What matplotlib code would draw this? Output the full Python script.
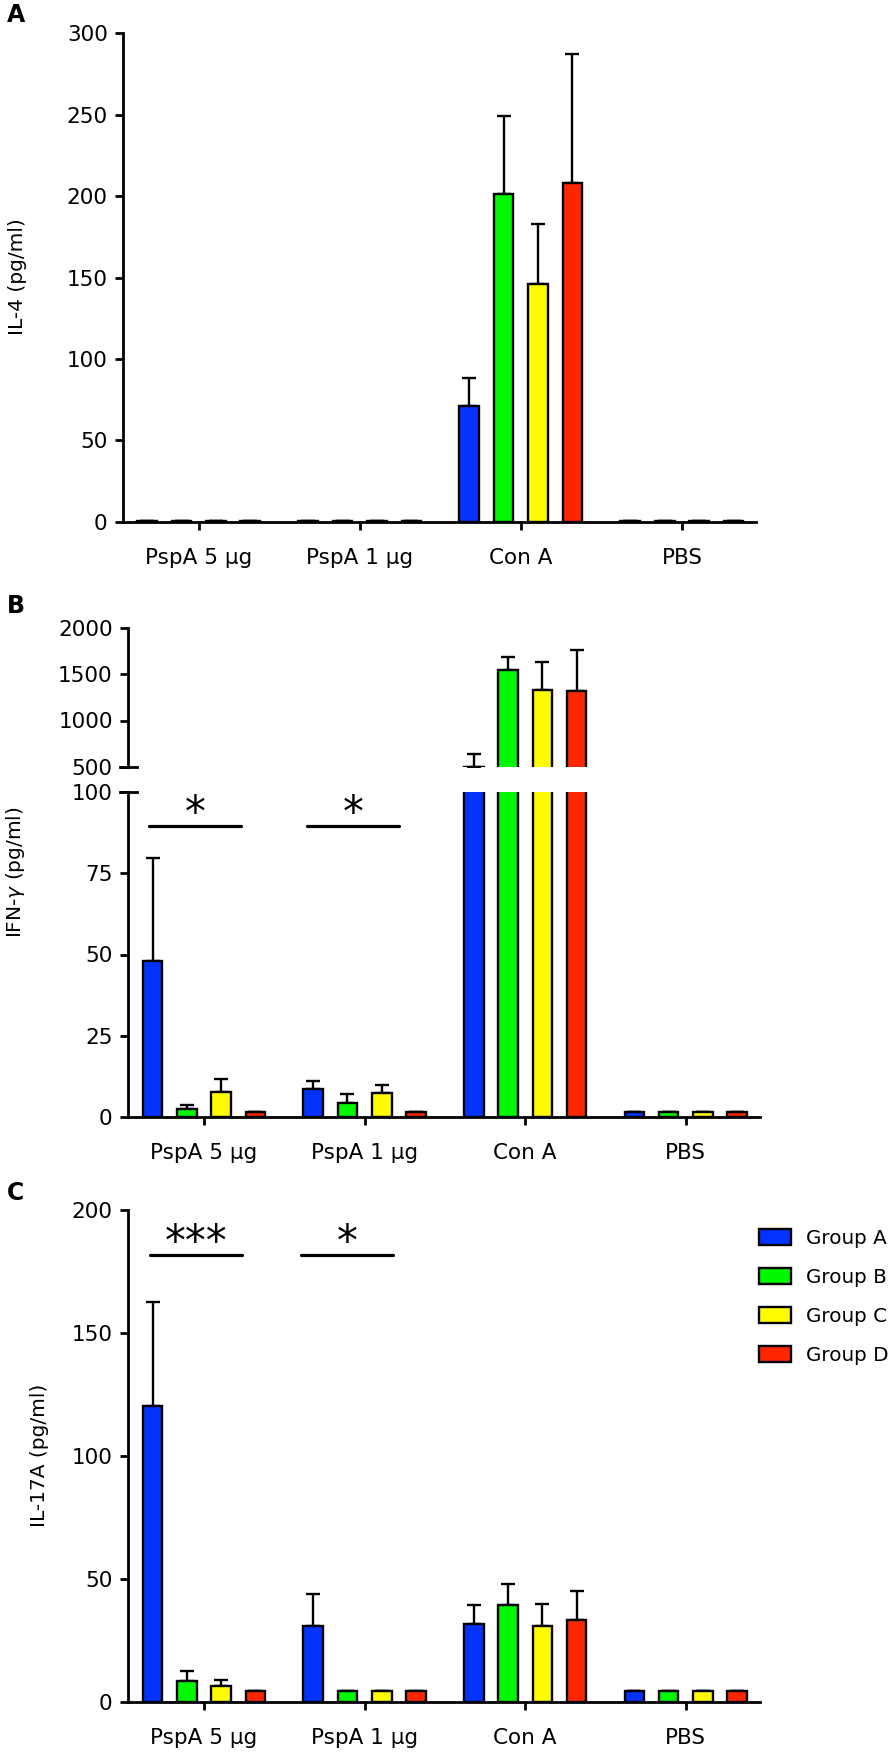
import numpy as np
import matplotlib
matplotlib.use("Agg")
import matplotlib.pyplot as plt

# ---- data ----
groups = ["PspA 5 µg", "PspA 1 µg", "Con A", "PBS"]
series = ["Group A", "Group B", "Group C", "Group D"]
colors = ["#0433ff", "#00f900", "#fffb00", "#ff2600"]

# IL-4 (pg/ml), mean and SEM per series, one value per stimulus group
il4_a = [0.4, 0.4, 71.0, 0.4]
il4_b = [0.4, 0.4, 201.0, 0.4]
il4_c = [0.4, 0.4, 146.0, 0.4]
il4_d = [0.4, 0.4, 208.0, 0.4]
il4_a_sem = [0, 0, 17.5, 0]
il4_b_sem = [0, 0, 48.0, 0]
il4_c_sem = [0, 0, 37.0, 0]
il4_d_sem = [0, 0, 79.5, 0]

# IFN-gamma (pg/ml)
ifn_a = [48.0, 8.5, 505.0, 1.6]
ifn_b = [2.4, 4.4, 1542.0, 1.6]
ifn_c = [7.8, 7.3, 1325.0, 1.6]
ifn_d = [1.6, 1.6, 1317.0, 1.6]
ifn_a_sem = [31.8, 2.6, 135.0, 0]
ifn_b_sem = [1.3, 2.7, 146.0, 0]
ifn_c_sem = [3.9, 2.5, 301.0, 0]
ifn_d_sem = [0, 0, 446.0, 0]

# IL-17A (pg/ml)
il17_a = [120.3, 31.0, 31.9, 4.5]
il17_b = [8.4, 4.5, 39.5, 4.5]
il17_c = [6.6, 4.5, 30.7, 4.5]
il17_d = [4.5, 4.5, 33.3, 4.5]
il17_a_sem = [42.4, 12.8, 7.4, 0]
il17_b_sem = [4.1, 0, 8.3, 0]
il17_c_sem = [2.3, 0, 9.1, 0]
il17_d_sem = [0, 0, 11.7, 0]

# ---- figure layout (pixel based) ----
W, H = 892, 1759
fig = plt.figure(figsize=(W / 100, H / 100), dpi=100)
plt.rcParams["font.family"] = ["DejaVu Sans"]
plt.rcParams["mathtext.fontset"] = "dejavusans"

LW = 2.0
FS = 15.5       # tick labels
FS_LAB = 14.5   # axis labels
FS_LEG = 14.3


def px_axes(left, top, right, bottom):
    return fig.add_axes([left / W, 1 - bottom / H, (right - left) / W, (bottom - top) / H])


def style(ax):
    for s in ["top", "right"]:
        ax.spines[s].set_visible(False)
    for s in ["left", "bottom"]:
        ax.spines[s].set_linewidth(LW)
    ax.tick_params(axis="both", width=LW, length=6, labelsize=FS)
    ax.tick_params(axis="y", pad=5)
    ax.tick_params(axis="x", pad=13)


def draw_bars(ax, means, sems):
    x = np.arange(len(groups))
    pitch = 0.2136
    width = 0.122
    handles = []
    for i, (m, e) in enumerate(zip(means, sems)):
        pos = x + (i - 1.5) * pitch
        ax.errorbar(pos, m, yerr=[np.zeros(len(e)), e], fmt="none", ecolor="k",
                    elinewidth=1.7, capsize=5, capthick=1.7, zorder=1)
        b = ax.bar(pos, m, width, color=colors[i], edgecolor="k", linewidth=1.7,
                   zorder=2, label=series[i])
        handles.append(b)
    return handles


def sig(ax, x0, x1, y, text):
    ax.plot([x0, x1], [y, y], color="k", lw=2.3, solid_capstyle="round", clip_on=False)
    ax.text((x0 + x1) / 2, y, text, ha="center", va="baseline", fontsize=30)


# ---- panel A ----
axA = px_axes(123, 33.3, 756, 521.7)
draw_bars(axA, [il4_a, il4_b, il4_c, il4_d], [il4_a_sem, il4_b_sem, il4_c_sem, il4_d_sem])
axA.set_xlim(-0.47, 3.46)
axA.set_ylim(0, 300)
axA.set_yticks(np.arange(0, 301, 50))
axA.set_xticks(np.arange(len(groups)))
axA.set_xticklabels(groups)
style(axA)
axA.set_ylabel("IL-4 (pg/ml)", fontsize=FS_LAB)
axA.yaxis.set_label_coords(27 / W, 1 - 277 / H, transform=fig.transFigure)

# ---- panel B (broken axis) ----
axBu = px_axes(128, 627.5, 760, 767)
axBl = px_axes(128, 792, 760, 1117)
ifn_means = [ifn_a, ifn_b, ifn_c, ifn_d]
ifn_sems = [ifn_a_sem, ifn_b_sem, ifn_c_sem, ifn_d_sem]
draw_bars(axBu, ifn_means, ifn_sems)
draw_bars(axBl, ifn_means, ifn_sems)
for ax in (axBu, axBl):
    ax.set_xlim(-0.473, 3.462)
    style(ax)
axBu.set_ylim(500, 2000)
axBu.set_yticks([500, 1000, 1500, 2000])
axBu.spines["bottom"].set_visible(False)
axBu.tick_params(axis="x", bottom=False, labelbottom=False)
axBl.set_ylim(0, 100)
axBl.set_yticks([0, 25, 50, 75, 100])
axBl.set_xticks(np.arange(len(groups)))
axBl.set_xticklabels(groups)
# break marks
axBu.plot([-0.012, 0.014], [0, 0], transform=axBu.transAxes, color="k", lw=LW, clip_on=False)
axBl.plot([-0.012, 0.014], [1, 1], transform=axBl.transAxes, color="k", lw=LW, clip_on=False)
axBl.set_ylabel(r"IFN-$\gamma$ (pg/ml)", fontsize=FS_LAB)
axBl.yaxis.set_label_coords(27 / W, 1 - 872 / H, transform=fig.transFigure)
sig(axBl, -0.345, 0.23, 89.4, "*")
sig(axBl, 0.641, 1.214, 89.4, "*")

# ---- panel C ----
axC = px_axes(128, 1210, 760, 1702)
hC = draw_bars(axC, [il17_a, il17_b, il17_c, il17_d],
               [il17_a_sem, il17_b_sem, il17_c_sem, il17_d_sem])
axC.set_xlim(-0.473, 3.462)
axC.set_ylim(0, 200)
axC.set_yticks(np.arange(0, 201, 50))
axC.set_xticks(np.arange(len(groups)))
axC.set_xticklabels(groups)
style(axC)
axC.set_ylabel("IL-17A (pg/ml)", fontsize=FS_LAB)
axC.yaxis.set_label_coords(49 / W, 1 - 1455 / H, transform=fig.transFigure)
sig(axC, -0.336, 0.237, 181.6, "***")
sig(axC, 0.604, 1.177, 181.6, "*")

leg = fig.legend(handles=hC, labels=series, loc="upper left",
                 bbox_to_anchor=(759 / W, 1 - 1229 / H), frameon=False, fontsize=FS_LEG,
                 handlelength=1.6, handleheight=0.85, handletextpad=0.75,
                 labelspacing=1.0, borderpad=0, borderaxespad=0)

# panel letters
for letter, y in [("A", 15), ("B", 606), ("C", 1193)]:
    fig.text(7 / W, 1 - y / H, letter, fontsize=17, fontweight="bold", va="center", ha="left")

fig.savefig("out.png", dpi=100)
